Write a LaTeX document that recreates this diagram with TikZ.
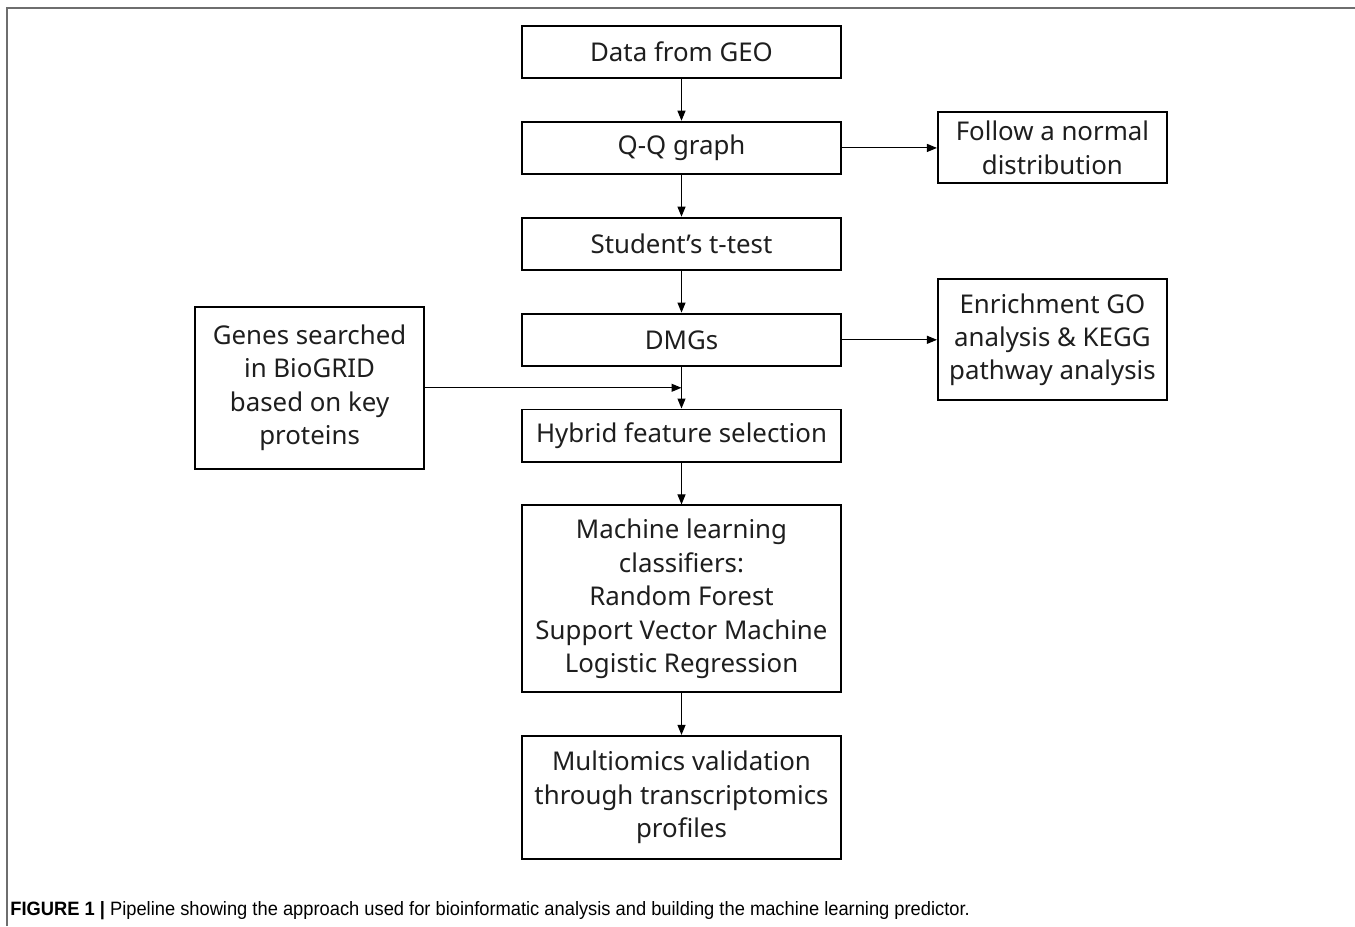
\documentclass[tikz,border=0pt]{standalone}
\usepackage{fontspec}
\setmainfont{Noto Sans}
\newfontfamily\capfont{Liberation Sans}
\usetikzlibrary{positioning,calc,arrows.meta}
\definecolor{PipeText}{HTML}{1E1E1E}
\definecolor{PipeFrame}{HTML}{6E6E6E}
\begin{document}
\begin{tikzpicture}[
    node distance=0.83cm,
    box/.style={draw=black,line width=1.1pt,minimum width=6.38cm,minimum height=1.05cm,align=center,inner sep=2pt,
      text=PipeText,font=\fontsize{14.7}{19}\selectfont},
    sidebox/.style={box,minimum width=4.58cm},
    arrow/.style={-{Triangle[length=0.2cm,width=0.16cm]},line width=0.6pt,draw=black}
  ]
    \useasboundingbox (0,0) rectangle (27.1,-18.52);
    \draw[PipeFrame,line width=1.1pt] (0.14,-18.52) -- (0.14,-0.16) -- (27.1,-0.16);
    % main column
    \node[box] (geo) at (13.63,-1.04) {Data from GEO};
    \node[box,below=of geo] (qq) {Q-Q graph};
    \node[box,below=of qq] (ttest) {Student’s t-test};
    \node[box,below=of ttest] (dmg) {DMGs};
    \node[box,below=of dmg] (hyb) {Hybrid feature selection};
    \node[box,below=of hyb,minimum height=3.74cm] (mlc) {Machine learning\\classifiers:\\Random Forest\\Support Vector Machine\\Logistic Regression};
    \node[box,below=of mlc,minimum height=2.46cm] (multi) {Multiomics validation\\through transcriptomics\\profiles};
    % side boxes
    \node[sidebox,right=1.9cm of qq,minimum height=1.42cm] (normal) {Follow a normal\\distribution};
    \node[sidebox,right=1.9cm of dmg,minimum height=2.42cm] (enrich) {Enrichment GO\\analysis \& KEGG\\pathway analysis};
    \coordinate (join) at ($(dmg.south)!0.5!(hyb.north)$);
    \node[sidebox,minimum height=3.24cm,anchor=east] (genes) at ([xshift=-1.92cm]dmg.west |- join) {Genes searched\\in BioGRID\\based on key\\proteins};
    \draw[arrow] (geo) -- (qq);
    \draw[arrow] (qq) -- (ttest);
    \draw[arrow] (ttest) -- (dmg);
    \draw[arrow] (dmg) -- (hyb);
    \draw[arrow] (hyb) -- (mlc);
    \draw[arrow] (mlc) -- (multi);
    \draw[arrow] (qq) -- (normal);
    \draw[arrow] (dmg) -- (enrich);
    \draw[arrow] (genes) -- (genes -| dmg.south);
    % caption
    \node[anchor=base west,inner sep=0pt,font=\capfont\fontsize{11}{13}\selectfont] (cap) at (0.2,-18.3)
      {\scalebox{0.947}[1]{\textbf{FIGURE 1 |} Pipeline showing the approach used for bioinformatic analysis and building the machine learning predictor.}};
\end{tikzpicture}
\end{document}
